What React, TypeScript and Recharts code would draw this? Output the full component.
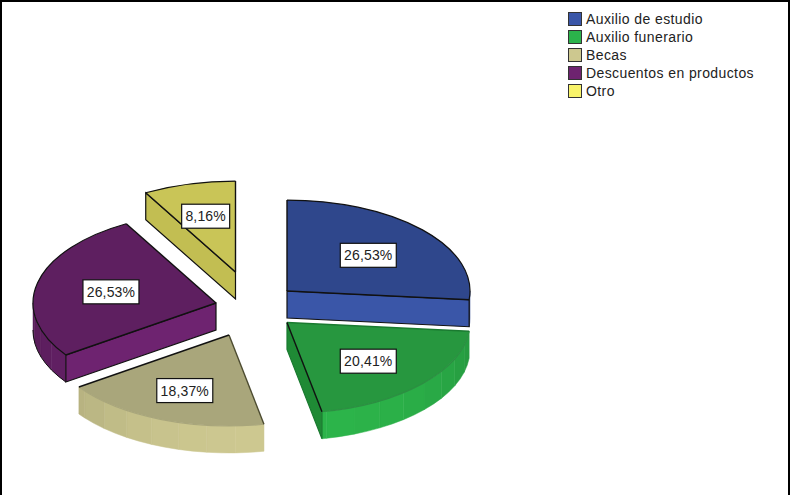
import React from "react";
import { PieChart, Pie, Legend } from "recharts";

// Share of each benefit, in percent
const categories = ["Auxilio de estudio", "Auxilio funerario", "Becas", "Descuentos en productos", "Otro"];
const shares = [26.53, 20.41, 18.37, 26.53, 8.16];

// Colours per slice
const legendColors = ["#3a56a8", "#2bb34b", "#cdc88f", "#6e2370", "#f8f36a"];
const topColors = ["#2f478c", "#27973f", "#a9a67b", "#5e1f60", "#c9c557"];
const wallColors = ["#3a56a8", "#2cb44a", "#cdc890", "#6e2370", "#c9c557"];
const sideColors = ["#3a56a8", "#1f8a35", "#a9a67b", "#6e2370", "#c2be52"];
const startEdgeColors = ["#111", "#1a7a30", "#4c4b30", "#111", "#111"];
const endEdgeColors = ["#111", "#111", "#111", "#111", "#111"];
const rimColors = ["#111", "#2c8f42", "#a9a67b", "#111", "#111"];
const outlineColors = ["#111", "#1a7a30", "#8f8c60", "#111", "#111"];

// Exploded displacement of each slice from the pie centre
const offsetX = [34, 34, -24, -37, -17.5];
const offsetY = [-15.5, 16, 28.5, -3.5, -34.5];

// Small per-slice adjustments of the value boxes
const labelNudgeX = [0, 0, -3, 2, -2];
const labelNudgeY = [1, 2, 5, 1, -3];

const TILT = 0.497;
const DEPTH = 27;
const LABEL_RADIUS = 0.6;

const rows = categories.map((name, i) => ({ name, value: shares[i], fill: legendColors[i] }));

// Pie angles turned into degrees clockwise from twelve o'clock
const clockwise = (deg: number) => 90 - deg;
const toRad = (deg: number) => (deg * Math.PI) / 180;

function rimPoint(x: number, y: number, r: number, a: number) {
  return [x + r * Math.sin(toRad(a)), y - r * TILT * Math.cos(toRad(a))];
}

function shade(hex: string, k: number) {
  const n = parseInt(hex.slice(1), 16);
  const c = [(n >> 16) & 255, (n >> 8) & 255, n & 255].map((v) => Math.round(v * k));
  return `rgb(${c[0]},${c[1]},${c[2]})`;
}

function Slice(props: any) {
  const i = categories.indexOf(props.name ?? props.payload?.name);
  const x = props.cx + offsetX[i];
  const y = props.cy + offsetY[i];
  const r = props.outerRadius;
  const ry = r * TILT;
  const a0 = clockwise(props.startAngle);
  const a1 = clockwise(props.endAngle);
  const p0 = rimPoint(x, y, r, a0);
  const p1 = rimPoint(x, y, r, a1);
  const arc = `A${r} ${ry} 0 ${a1 - a0 > 180 ? 1 : 0} 1 ${p1[0]} ${p1[1]}`;
  const facets: React.ReactNode[] = [];

  // The outer wall is drawn in short curved facets over the part of the rim facing the viewer
  const from = Math.max(a0, 90);
  const to = Math.min(a1, 270);
  for (let a = from; a < to; a += 9) {
    const b = Math.min(a + 9, to);
    const u = rimPoint(x, y, r, a);
    const v = rimPoint(x, y, r, b);
    const k = 0.8 + 0.2 * Math.cos(toRad((a + b) / 2 - 172));
    const color = shade(wallColors[i], k);
    facets.push(
      <path
        key={a}
        d={`M${u[0]} ${u[1]}A${r} ${ry} 0 0 1 ${v[0]} ${v[1]}L${v[0]} ${v[1] + DEPTH}A${r} ${ry} 0 0 0 ${u[0]} ${u[1] + DEPTH}Z`}
        fill={color}
        stroke={color}
        strokeWidth={0.5}
      />
    );
  }

  const sideWall = (p: number[], a: number) => (
    <path
      d={`M${x} ${y}L${p[0]} ${p[1]}L${p[0]} ${p[1] + DEPTH}L${x} ${y + DEPTH}Z`}
      fill={sideColors[i]}
      stroke={outlineColors[i]}
      strokeWidth={1.2}
      key={a}
    />
  );
  const showStart = Math.sin(toRad(a0)) < -0.01;
  const showEnd = Math.sin(toRad(a1)) > 0.01;

  let outerLow = "";
  if (to > from) {
    const u = rimPoint(x, y + DEPTH, r, from);
    const v = rimPoint(x, y + DEPTH, r, to);
    outerLow = `M${u[0]} ${u[1]}A${r} ${ry} 0 0 1 ${v[0]} ${v[1]}`;
  }

  return (
    <g>
      {facets}
      {showStart && sideWall(p0, 0)}
      {showEnd && sideWall(p1, 1)}
      {outerLow && <path d={outerLow} fill="none" stroke={i === 3 ? "#111" : "none"} strokeWidth={1} />}
      <path d={`M${x} ${y}L${p0[0]} ${p0[1]}${arc}Z`} fill={topColors[i]} stroke="none" />
      <path d={`M${p0[0]} ${p0[1]}${arc}`} fill="none" stroke={rimColors[i]} strokeWidth={1.2} />
      <path d={`M${x} ${y}L${p0[0]} ${p0[1]}`} stroke={startEdgeColors[i]} strokeWidth={1.4} />
      <path d={`M${x} ${y}L${p1[0]} ${p1[1]}`} stroke={endEdgeColors[i]} strokeWidth={1.4} />
    </g>
  );
}

function ValueLabel(props: any) {
  const i = categories.indexOf(props.name ?? props.payload?.name);
  const mid = clockwise(props.midAngle);
  const [lx, ly] = rimPoint(
    props.cx + offsetX[i] + labelNudgeX[i],
    props.cy + offsetY[i] + labelNudgeY[i],
    props.outerRadius * LABEL_RADIUS,
    mid
  );
  const text = `${props.value.toFixed(2).replace(".", ",")}%`;
  const w = text.length * 8 + 8;
  return (
    <g>
      <rect x={lx - w / 2} y={ly - 12} width={w} height={24} fill="#fff" stroke="#111" strokeWidth={1.2} />
      <text
        x={lx}
        y={ly + 5}
        textAnchor="middle"
        fontFamily="Liberation Sans"
        fontSize={14}
        letterSpacing={0.15}
        fill="#222"
      >
        {text}
      </text>
    </g>
  );
}

function LegendBlock({ payload }: any) {
  return (
    <div style={{ fontFamily: "Liberation Sans", fontSize: 14, letterSpacing: 0.4, color: "#222" }}>
      {(payload ?? []).map((entry: any) => (
        <div key={entry.value} style={{ display: "flex", alignItems: "center", height: 18 }}>
          <span
            style={{
              width: 14,
              height: 14,
              boxSizing: "border-box",
              border: "1.5px solid #333",
              background: entry.payload?.fill ?? entry.color,
              marginRight: 4,
              flex: "none",
            }}
          />
          <span style={{ whiteSpace: "nowrap" }}>{entry.value}</span>
        </div>
      ))}
    </div>
  );
}

export default function App() {
  return (
    <div style={{ position: "fixed", left: 0, top: 0, width: 790, height: 495, background: "#fff" }}>
      <PieChart width={790} height={495} margin={{ top: 0, right: 0, bottom: 0, left: 0 }}>
        <Pie
          data={rows}
          dataKey="value"
          nameKey="name"
          cx={253}
          cy={306.5}
          innerRadius={0}
          outerRadius={183}
          startAngle={90}
          endAngle={-270}
          stroke="none"
          shape={Slice}
          label={ValueLabel}
          labelLine={false}
          isAnimationActive={false}
        />
        <Legend
          content={<LegendBlock />}
          wrapperStyle={{ position: "absolute", left: 568, top: 10, right: "auto", bottom: "auto", width: 210 }}
        />
      </PieChart>
      <div
        style={{
          position: "absolute",
          inset: 0,
          boxSizing: "border-box",
          borderTop: "2px solid #000",
          borderLeft: "2px solid #000",
          borderRight: "2px solid #000",
          pointerEvents: "none",
        }}
      />
    </div>
  );
}
